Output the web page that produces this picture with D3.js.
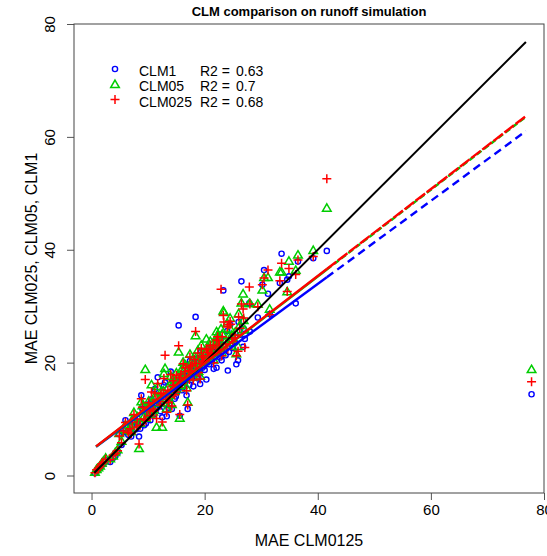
<!DOCTYPE html>
<html>
<head>
<meta charset="utf-8">
<script src="https://cdn.jsdelivr.net/npm/d3@7"></script>
<style>
  html, body { margin: 0; background: #fff; overflow: hidden; }
  svg { display: block; }
  text { font-family: "Liberation Sans", Arial, sans-serif; fill: #000; }
</style>
</head>
<body>
<svg width="547" height="556"></svg>
<script>
const svg = d3.select('svg');

// MAE CLM0125 (x) shared by every series
const maeClm0125 = [0.6, 0.9, 1.2, 1.5, 1.8, 2.1, 2.5, 3.3, 3.8, 4.2, 4.6, 4.9, 5.6, 6.0, 6.5, 6.8, 7.2, 7.5, 7.9, 8.1,
  8.4, 8.8, 9.0, 9.3, 9.5, 9.8, 10.1, 10.4, 10.6, 10.9, 11.0, 11.2, 11.5, 11.7, 12.0, 12.2, 12.3, 12.5, 12.8, 13.0,
  13.3, 13.5, 13.6, 13.8, 14.0, 14.2, 14.5, 14.7, 14.9, 15.0, 15.2, 15.4, 15.6, 15.8, 16.0, 16.1, 16.2, 16.4, 16.6, 16.8,
  17.0, 17.2, 17.3, 17.4, 17.6, 17.8, 18.0, 18.2, 18.4, 18.6, 18.8, 18.9, 19.0, 19.2, 19.4, 19.6, 19.8, 19.9, 20.0, 20.3,
  20.5, 20.8, 21.0, 21.1, 21.3, 21.6, 21.9, 22.1, 22.4, 22.6, 22.7, 22.9, 23.1, 23.3, 23.4, 23.7, 24.0, 24.3, 24.6, 24.8,
  25.0, 25.4, 25.9, 26.2, 26.5, 26.8, 27.1, 27.9, 28.0, 29.4, 30.2, 30.5, 31.2, 31.5, 33.3, 33.6, 34.6, 34.9, 36.1, 36.5,
  39.2, 41.6, 77.8,
  10.2, 11.4, 12.7, 13.2, 14.4, 15.5, 16.5, 17.5, 18.5, 19.5, 20.6, 21.5, 22.3, 23.0, 24.1, 24.5, 25.6, 26.0, 26.9, 9.6,
  8.6, 7.0, 5.3];

const maeClm1 = [0.4, 0.8, 1.1, 1.3, 1.9, 2.0, 2.7, 2.4, 3.1, 3.4, 4.0, 7.3, 7.6, 9.8, 7.2, 7.9, 8.8, 10.2, 8.2, 9.5,
  6.9, 14.2, 11.8, 8.9, 12.5, 10.9, 12.6, 9.8, 13.5, 12.0, 10.8, 15.3, 11.9, 17.4, 12.4, 11.4, 14.0, 10.3, 16.0, 16.5,
  10.5, 14.6, 12.0, 12.8, 18.4, 11.8, 15.5, 13.6, 14.0, 16.9, 14.9, 26.6, 10.6, 17.2, 15.1, 15.6, 19.4, 16.0, 18.2, 14.2,
  11.8, 17.7, 16.1, 20.3, 16.9, 18.6, 15.8, 19.9, 28.1, 17.3, 20.8, 17.2, 18.0, 16.2, 22.0, 19.1, 20.6, 19.4, 18.7, 17.0,
  21.0, 19.7, 22.3, 20.6, 20.2, 18.9, 21.6, 19.1, 22.8, 22.1, 20.9, 24.3, 22.0, 32.8, 23.1, 21.3, 25.6, 21.9, 24.0, 23.2,
  22.6, 23.5, 20.4, 24.9, 34.4, 22.8, 24.2, 30.5, 25.5, 28.0, 33.8, 36.4, 32.2, 28.6, 34.1, 39.3, 34.7, 35.3, 30.5, 37.9,
  38.5, 39.8, 14.4,
  11.0, 12.8, 13.9, 12.5, 16.6, 16.4, 17.6, 18.8, 19.0, 20.1, 21.5, 21.9, 23.6, 20.4, 18.6, 26.7, 19.7, 27.2, 26.0, 9.2,
  8.3, 6.9, 5.4];

const maeClm05 = [0.6, 1.1, 1.4, 1.7, 2.2, 2.6, 3.1, 3.0, 3.5, 4.1, 4.6, 7.5, 8.2, 9.0, 8.0, 8.7, 9.9, 11.2, 9.1, 10.4,
  4.8, 13.1, 12.4, 10.5, 18.8, 11.9, 13.2, 10.9, 16.1, 11.3, 11.7, 14.1, 8.6, 15.8, 13.6, 12.9, 14.9, 8.6, 18.1, 19.0,
  11.9, 15.6, 13.4, 14.2, 17.6, 12.6, 16.4, 14.9, 15.3, 18.2, 16.3, 21.9, 10.2, 18.6, 16.7, 16.0, 20.1, 17.2, 19.6, 15.6,
  13.0, 19.0, 17.4, 21.5, 18.3, 20.4, 17.5, 21.1, 24.8, 18.9, 22.2, 18.5, 19.5, 17.6, 23.1, 20.9, 21.6, 20.6, 20.2, 24.2,
  22.3, 21.4, 23.8, 22.0, 21.9, 20.5, 23.2, 25.5, 24.4, 23.5, 22.6, 26.0, 25.1, 29.2, 28.9, 23.9, 27.0, 24.8, 25.9, 24.9,
  24.2, 25.4, 22.9, 26.6, 30.6, 32.2, 25.8, 30.5, 30.5, 30.4, 32.9, 35.1, 35.1, 29.5, 36.1, 36.1, 32.6, 38.0, 36.4, 39.1,
  39.9, 47.4, 18.8,
  12.2, 13.9, 15.0, 14.0, 17.0, 17.8, 18.9, 19.8, 20.3, 21.3, 22.8, 23.4, 24.9, 21.8, 23.0, 27.9, 21.6, 28.7, 27.5, 10.2,
  9.3, 7.8, 6.1];

const maeClm025 = [0.5, 1.0, 1.3, 1.6, 2.1, 2.4, 2.9, 2.8, 3.6, 3.9, 4.4, 7.0, 7.9, 9.4, 7.6, 8.3, 9.5, 10.8, 8.6, 10.0,
  5.6, 13.6, 12.1, 10.0, 17.0, 11.5, 12.9, 10.6, 14.8, 11.8, 11.4, 14.6, 10.1, 16.3, 13.1, 12.5, 14.5, 9.5, 17.2, 21.3,
  11.2, 15.1, 13.0, 13.9, 17.9, 12.3, 16.0, 14.3, 14.8, 17.7, 15.8, 23.0, 10.8, 18.0, 16.3, 16.6, 19.8, 16.9, 19.1, 15.0,
  12.5, 18.6, 17.0, 21.0, 17.8, 19.6, 16.9, 20.6, 25.5, 18.4, 21.7, 18.2, 19.0, 17.1, 22.5, 20.3, 21.2, 20.1, 19.8, 22.4,
  21.8, 20.8, 23.1, 21.7, 21.4, 20.0, 22.6, 24.0, 23.9, 23.0, 22.1, 33.0, 24.6, 28.4, 27.2, 23.3, 26.3, 26.7, 26.8, 24.4,
  23.7, 24.9, 22.0, 26.1, 30.4, 29.5, 22.7, 33.4, 30.4, 29.9, 33.8, 35.0, 36.4, 28.5, 34.5, 37.6, 32.6, 36.7, 35.6, 38.2,
  38.8, 52.6, 16.6,
  11.6, 13.4, 14.6, 13.5, 16.8, 17.3, 18.4, 19.4, 19.9, 20.9, 22.3, 23.0, 24.6, 21.2, 22.4, 27.3, 21.2, 28.1, 27.9, 9.8,
  8.9, 7.4, 5.8];

const seriesNames = ['CLM1', 'CLM05', 'CLM025'];
const seriesR2 = ['0.63', '0.7', '0.68'];
const seriesColors = ['#0000ff', '#00cd00', '#ff0000'];

// fitted lines: intercept, slope; solid over the data range, dashed to the far point
const fitIntercept = [4.5, 4.5, 4.55];
const fitSlope = [0.736, 0.769, 0.770];
const fitStart = 0.8;
const fitSolidEnd = 41.6;
const fitEnd = 76.8;
const oneToOne = [0.5, 76.8];

const xTicks = [0, 20, 40, 60, 80];
const yTicks = [0, 20, 40, 60, 80];

const margin = { top: 24, right: 3, bottom: 63, left: 74 };
const width = 547, height = 556;
const innerWidth = width - margin.left - margin.right;
const innerHeight = height - margin.top - margin.bottom;

const xScale = d3.scaleLinear().domain([-3.1, 80]).range([0, innerWidth]);
const yScale = d3.scaleLinear().domain([-3.1, 80]).range([innerHeight, 0]);

const g = svg.append('g').attr('transform', `translate(${margin.left},${margin.top})`);

// axes
const xAxis = d3.axisBottom(xScale).tickValues(xTicks).tickSize(7).tickPadding(4).tickFormat(d3.format('d'));
const xg = g.append('g').attr('transform', `translate(0,${innerHeight})`).call(xAxis);
xg.select('.domain').remove();
xg.selectAll('line').attr('stroke', '#555');
xg.selectAll('text').style('font-size', '15px').attr('font-family', null);

const yAxis = d3.axisLeft(yScale).tickValues(yTicks).tickSize(7).tickFormat(d3.format('d'));
const yg = g.append('g').call(yAxis);
yg.select('.domain').remove();
yg.selectAll('line').attr('stroke', '#555');
yg.selectAll('text')
  .style('font-size', '15px')
  .attr('font-family', null)
  .attr('x', null).attr('dy', null)
  .attr('text-anchor', 'middle')
  .attr('transform', d => `translate(-19,0) rotate(-90)`);

g.append('rect')
  .attr('width', innerWidth).attr('height', innerHeight)
  .attr('fill', 'none').attr('stroke', '#444').attr('stroke-width', 1);

// points
const allY = [maeClm1, maeClm05, maeClm025];
const symbolPath = [
  (x, y) => null,
  (x, y) => `M${x},${y - 4.2}L${x + 4.3},${y + 3.2}L${x - 4.3},${y + 3.2}Z`,
  (x, y) => `M${x - 4.5},${y}H${x + 4.5}M${x},${y - 4.5}V${y + 4.5}`
];

allY.forEach((ys, i) => {
  const pts = g.append('g');
  maeClm0125.forEach((xv, j) => {
    const px = xScale(xv), py = yScale(ys[j]);
    if (i === 0) {
      pts.append('circle').attr('cx', px).attr('cy', py).attr('r', 2.6)
        .attr('fill', 'none').attr('stroke', seriesColors[i]).attr('stroke-width', 1.4);
    } else {
      pts.append('path').attr('d', symbolPath[i](px, py))
        .attr('fill', 'none').attr('stroke', seriesColors[i]).attr('stroke-width', 1.5);
    }
  });
});

// lines
const line = d3.line().x(d => xScale(d[0])).y(d => yScale(d[1]));
g.append('path')
  .attr('d', line(oneToOne.map(v => [v, v])))
  .attr('stroke', '#000').attr('stroke-width', 2).attr('fill', 'none');

const dashes = ['8,5', '6,3', '12,2'];
[0, 1, 2].forEach(i => {
  const f = x => fitIntercept[i] + fitSlope[i] * x;
  g.append('path')
    .attr('d', line([[fitStart, f(fitStart)], [fitSolidEnd, f(fitSolidEnd)]]))
    .attr('stroke', seriesColors[i]).attr('stroke-width', 2.4).attr('fill', 'none');
  g.append('path')
    .attr('d', line([[fitSolidEnd, f(fitSolidEnd)], [fitEnd, f(fitEnd)]]))
    .attr('stroke', seriesColors[i]).attr('stroke-width', 2.4).attr('fill', 'none')
    .attr('stroke-dasharray', dashes[i]);
});

// title and axis labels
svg.append('text')
  .attr('x', margin.left + innerWidth / 2).attr('y', 16)
  .attr('text-anchor', 'middle')
  .style('font-size', '13px').style('font-weight', 'bold')
  .text('CLM comparison on runoff simulation');

svg.append('text')
  .attr('x', margin.left + innerWidth / 2).attr('y', 546)
  .attr('text-anchor', 'middle')
  .style('font-size', '16px')
  .text('MAE CLM0125');

svg.append('text')
  .attr('transform', `translate(37,${margin.top + innerHeight / 2}) rotate(-90)`)
  .attr('text-anchor', 'middle')
  .style('font-size', '16px')
  .text('MAE CLM025, CLM05, CLM1');

// legend
const legend = svg.append('g');
seriesNames.forEach((name, i) => {
  const y = 70 + i * 15.3;
  const sx = 115;
  if (i === 0) {
    legend.append('circle').attr('cx', sx).attr('cy', y - 1).attr('r', 2.6)
      .attr('fill', 'none').attr('stroke', seriesColors[i]).attr('stroke-width', 1.4);
  } else {
    legend.append('path').attr('d', symbolPath[i](sx, y - 1))
      .attr('fill', 'none').attr('stroke', seriesColors[i]).attr('stroke-width', 1.5);
  }
  legend.append('text').attr('x', 139).attr('y', y + 6).style('font-size', '14px').text(name);
  legend.append('text').attr('x', 200).attr('y', y + 6).style('font-size', '14px').text('R2 =');
  legend.append('text').attr('x', 236).attr('y', y + 6).style('font-size', '14px').text(seriesR2[i]);
});
</script>
</body>
</html>
